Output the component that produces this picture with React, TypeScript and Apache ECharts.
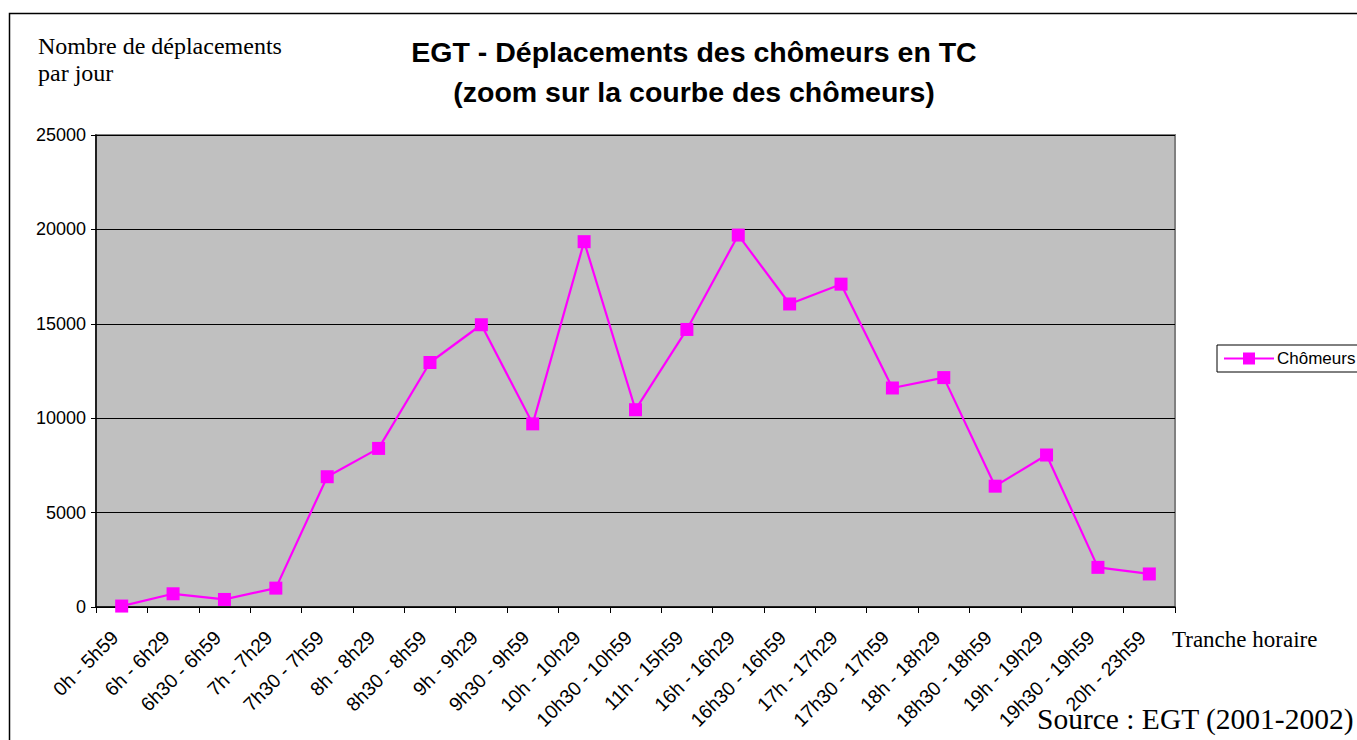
import React, { useEffect, useRef } from "react";
import * as echarts from "echarts";

const categories = [
  "0h - 5h59", "6h - 6h29", "6h30 - 6h59", "7h - 7h29", "7h30 - 7h59",
  "8h - 8h29", "8h30 - 8h59", "9h - 9h29", "9h30 - 9h59", "10h - 10h29",
  "10h30 - 10h59", "11h - 15h59", "16h - 16h29", "16h30 - 16h59", "17h - 17h29",
  "17h30 - 17h59", "18h - 18h29", "18h30 - 18h59", "19h - 19h29", "19h30 - 19h59",
  "20h - 23h59",
];
const chomeurs = [
  50, 700, 400, 1000, 6900, 8400, 12950, 14950, 9700, 19350,
  10450, 14700, 19700, 16050, 17100, 11600, 12150, 6400, 8050, 2100, 1750,
];
const seriesName = "Chômeurs";
const titleLines = ["EGT - Déplacements des chômeurs en TC", "(zoom sur la courbe des chômeurs)"];
const yTitleLines = ["Nombre de déplacements", "par jour"];
const xTitle = "Tranche horaire";
const sourceText = "Source : EGT (2001-2002)";

const SANS = "'Liberation Sans', Arial, sans-serif";
const SERIF = "'Liberation Serif', 'Times New Roman', serif";

export default function App() {
  const ref = useRef<HTMLDivElement>(null);
  useEffect(() => {
    if (!ref.current) return;
    const chart = echarts.init(ref.current, null, { renderer: "svg" });
    chart.setOption({
      animation: false,
      backgroundColor: "#ffffff",
      title: {
        text: titleLines.join("\n"),
        left: 689,
        textAlign: "center",
        top: 27,
        textStyle: {
          fontFamily: SANS,
          fontWeight: "bold",
          fontSize: 28.5,
          lineHeight: 40,
          color: "#000",
        },
      },
      grid: {
        left: 96,
        right: 182,
        top: 135,
        bottom: 133,
        show: true,
        backgroundColor: "#c0c0c0",
        borderColor: "#808080",
        borderWidth: 2,
      },
      legend: {
        left: 1217,
        top: 345,
        orient: "vertical",
        padding: [5, 3, 5, 6],
        borderColor: "#000",
        borderWidth: 1,
        backgroundColor: "#fff",
        itemWidth: 50,
        itemHeight: 15,
        itemGap: 4,
        textStyle: { fontFamily: SANS, fontSize: 17, color: "#000", padding: [0, 0, 0, -2] },
        data: [seriesName],
      },
      xAxis: {
        type: "category",
        data: categories,
        boundaryGap: true,
        axisLine: { show: true, lineStyle: { color: "#000", width: 1.5 } },
        axisTick: { show: true, alignWithLabel: false, length: 6, lineStyle: { color: "#000" } },
        axisLabel: {
          rotate: 45,
          interval: 0,
          margin: 20,
          padding: [0, 10, 0, 0],
          fontFamily: SANS,
          fontSize: 19.5,
          color: "#000",
        },
        splitLine: { show: false },
      },
      yAxis: {
        type: "value",
        min: 0,
        max: 25000,
        interval: 5000,
        axisLine: { show: true, lineStyle: { color: "#000", width: 1.5 } },
        axisTick: { show: true, length: 5, lineStyle: { color: "#000" } },
        axisLabel: {
          fontFamily: SANS,
          fontSize: 18,
          color: "#000",
          margin: 10,
          formatter: (v: number) => String(v),
        },
        splitLine: { show: true, lineStyle: { color: "#000", width: 1 } },
      },
      series: [
        {
          name: seriesName,
          type: "line",
          data: chomeurs,
          symbol: "rect",
          symbolSize: 13,
          showAllSymbol: true,
          itemStyle: { color: "#ff00ff" },
          lineStyle: { color: "#ff00ff", width: 2.2 },
        },
      ],
      graphic: [
        {
          type: "rect",
          shape: { x: 9.5, y: 13.5, width: 1500, height: 900 },
          style: { fill: "none", stroke: "#000", lineWidth: 1.5 },
          silent: true,
          z: -10,
        },
        {
          type: "text",
          left: 38,
          top: 32,
          style: {
            text: yTitleLines.join("\n"),
            font: `24px ${SERIF}`,
            lineHeight: 27,
            fill: "#000",
          },
        },
        {
          type: "text",
          left: 1172,
          top: 628,
          style: { text: xTitle, font: `23px ${SERIF}`, fill: "#000" },
        },
        {
          type: "text",
          left: 1037,
          top: 704,
          style: { text: sourceText, font: `29.5px ${SERIF}`, fill: "#000" },
        },
      ],
    });
    return () => chart.dispose();
  }, []);
  return (
    <div
      ref={ref}
      style={{ position: "fixed", left: 0, top: 0, width: 1357, height: 740 }}
    />
  );
}
